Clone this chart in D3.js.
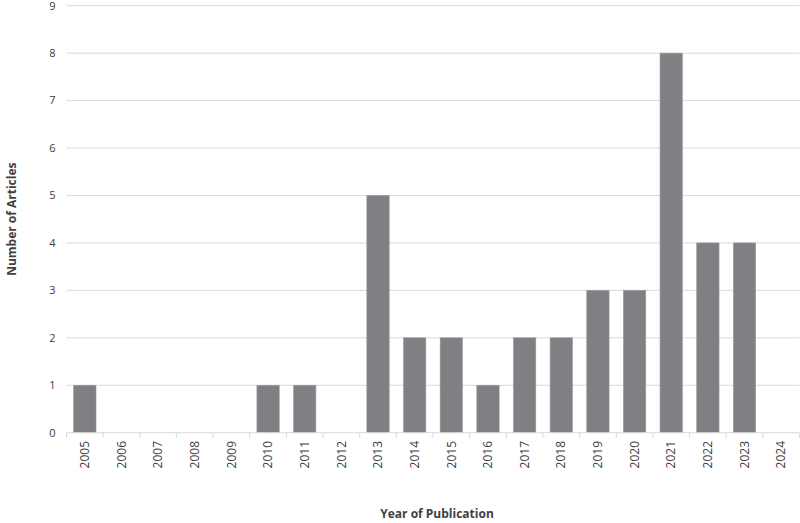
<!DOCTYPE html>
<html><head><meta charset="utf-8">
<script src="https://cdn.jsdelivr.net/npm/d3@7"></script>
<style>body{margin:0;background:#fff}</style>
</head><body>
<svg id="c" width="800" height="523"></svg>
<script>
const years = ["2005","2006","2007","2008","2009","2010","2011","2012","2013","2014","2015","2016","2017","2018","2019","2020","2021","2022","2023","2024"];
const articles = [1,0,0,0,0,1,1,0,5,2,2,1,2,2,3,3,8,4,4,0];
const yTicks = [0,1,2,3,4,5,6,7,8,9];

const svg = d3.select("#c");
const pLeft = 66.5, pRight = 799.5, pTop = 5.7, pBottom = 432.7;
const font = "'Open Sans', sans-serif";

const x = d3.scaleBand().domain(years).range([pLeft, pRight]).paddingInner(0.39).paddingOuter(0.195);
const xb = d3.scaleBand().domain(years).range([pLeft, pRight]);
const y = d3.scaleLinear().domain([0, 9]).range([pBottom, pTop]);

// gridlines
svg.append("g").selectAll("line").data(yTicks.filter(d => d > 0)).join("line")
  .attr("x1", pLeft).attr("x2", pRight)
  .attr("y1", d => y(d)).attr("y2", d => y(d))
  .attr("stroke", "#d9d9d9").attr("stroke-width", 1);

// y tick labels
svg.append("g").selectAll("text").data(yTicks).join("text")
  .attr("x", 55.5).attr("y", d => y(d)).attr("dy", "0.35em")
  .attr("text-anchor", "end").attr("font-family", font).attr("font-size", 11)
  .attr("fill", "#404040").text(d => d);

// bars
svg.append("g").selectAll("rect").data(years.map((yr, i) => ({yr, v: articles[i]})).filter(d => d.v > 0)).join("rect")
  .attr("x", d => x(d.yr)).attr("width", x.bandwidth())
  .attr("y", d => y(d.v)).attr("height", d => y(0) - y(d.v))
  .attr("fill", "#808084").attr("stroke", "#9a9a9d").attr("stroke-width", 0.6);

// x axis line and ticks
svg.append("line").attr("x1", pLeft).attr("x2", pRight).attr("y1", pBottom).attr("y2", pBottom)
  .attr("stroke", "#d9d9d9").attr("stroke-width", 1);
const bounds = years.map(d => xb(d)).concat([pRight]);
svg.append("g").selectAll("line").data(bounds).join("line")
  .attr("x1", d => d).attr("x2", d => d).attr("y1", pBottom).attr("y2", pBottom + 5)
  .attr("stroke", "#d9d9d9").attr("stroke-width", 1);

// x tick labels
svg.append("g").selectAll("text").data(years).join("text")
  .attr("transform", d => `translate(${xb(d) + xb.bandwidth()/2},${441}) rotate(-90)`)
  .attr("text-anchor", "end").attr("dy", "0.35em")
  .attr("font-family", font).attr("font-size", 12).attr("fill", "#404040").text(d => d);

// axis titles
svg.append("text").attr("x", 437).attr("y", 518)
  .attr("text-anchor", "middle").attr("font-family", font).attr("font-size", 12)
  .attr("font-weight", "bold").attr("fill", "#404040").text("Year of Publication");
svg.append("text").attr("transform", `translate(12,${(pTop + pBottom) / 2}) rotate(-90)`)
  .attr("text-anchor", "middle").attr("dy", "0.35em").attr("font-family", font).attr("font-size", 12)
  .attr("font-weight", "bold").attr("fill", "#404040").text("Number of Articles");
</script>
</body></html>
